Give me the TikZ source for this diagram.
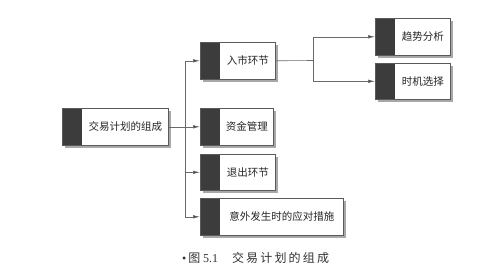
\documentclass[tikz,border=0pt]{standalone}
\usepackage{fontspec}
\setmainfont{Noto Sans CJK SC}
\newfontfamily\serifnum{Liberation Serif}
\usetikzlibrary{shadows,arrows.meta}
\definecolor{boxline}{HTML}{5A5A5A}
\definecolor{stripc}{HTML}{3C3C3C}
\definecolor{shadowc}{HTML}{A8A8A8}
\definecolor{linec}{HTML}{6A6A6A}
\newcommand\boxtxt[1]{\hspace*{20pt}#1}
\tikzset{
  box/.style={draw=boxline, line width=0.6pt, fill=white, minimum height=37pt,
    inner sep=0pt, anchor=north west,
    general shadow={fill=shadowc, shadow xshift=3pt, shadow yshift=-3pt},
    path picture={\fill[stripc] (path picture bounding box.north west) rectangle ([xshift=20pt]path picture bounding box.south west);},
    font=\fontsize{10.5}{12}\selectfont, text=black!85},
  arr/.style={draw=linec, line width=0.6pt, -{Latex[length=7pt,width=3.5pt,fill=stripc]}},
}
\begin{document}
\begin{tikzpicture}[x=1pt,y=-1pt]
\useasboundingbox[fill=white] (0,0) rectangle (483,279);
\node[box, minimum width=106pt] (main) at (62,108) {\boxtxt{交易计划的组成}};
\node[box, minimum width=75pt] (rs) at (200,42) {\boxtxt{入市环节}};
\node[box, minimum width=73pt] (zj) at (200,108) {\boxtxt{资金管理}};
\node[box, minimum width=75pt, minimum height=36pt] (tc) at (200,154) {\boxtxt{退出环节}};
\node[box, minimum width=143pt] (yw) at (200,198) {\boxtxt{意外发生时的应对措施}};
\node[box, minimum width=75pt] (qs) at (375,18) {\boxtxt{趋势分析}};
\node[box, minimum width=75pt, minimum height=36pt] (sj) at (375,63) {\boxtxt{时机选择}};
\coordinate (v) at (185,126.5);
\coordinate (h) at (313,60.5);
\draw[arr] (main.east) -- (zj.west);
\draw[arr] (v) |- (rs.west);
\draw[arr] (v) |- (tc.west);
\draw[arr] (v) |- (yw.west);
\draw[draw=linec, line width=0.6pt] (rs.east) -- (h);
\draw[arr] (h) |- (qs.west);
\draw[arr] (h) |- (sj.west);
\node[anchor=west, inner sep=0pt, font=\fontsize{12}{14}\selectfont, text=black!80] (cap) at (182,258)
  {{\serifnum\textbullet}\,图 {\serifnum 5.1}\hspace{14pt}{\addfontfeature{LetterSpace=18}交易计划的组成}};
\end{tikzpicture}
\end{document}
